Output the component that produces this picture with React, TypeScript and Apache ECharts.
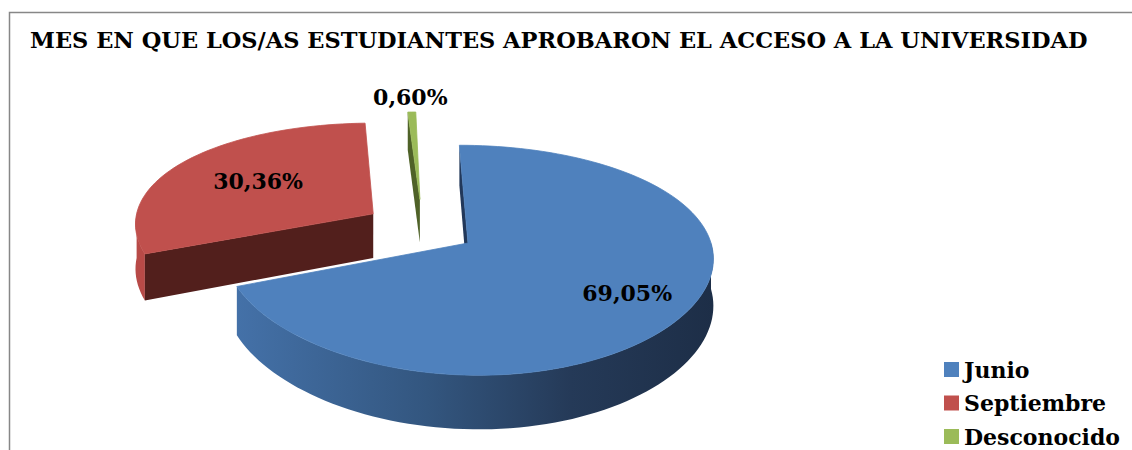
import React, { useEffect, useRef } from "react";
import * as echarts from "echarts";

// ---- data ----
const TITLE = "MES EN QUE LOS/AS ESTUDIANTES APROBARON EL ACCESO A LA UNIVERSIDAD";
const categories = ["Junio", "Septiembre", "Desconocido"];
const values = [69.05, 30.36, 0.6];
const valueLabels = ["69,05%", "30,36%", "0,60%"];

// ---- styles ----
const FONT = "'DejaVu Serif', serif";
const topColors = ["#4f81bd", "#c0504d", "#9bbb59"];
const cutColors = ["#22385a", "#521f1c", "#4f6228"];
const wallColors = ["#3a6190", "#b84a47", "#6f8a3c"];
// exploded slice offsets in unit-disk coordinates [x, depth]
const explodeOffsets = [
  [0, 0],
  [-0.39, 0.27],
  [-0.19, 0.412],
];
const labelRadius = [0.74, 0.6, 1.2];
const layerOrder = [10, 1, 2];

const CX = 468;
const CY = 243;
const VX = 373;
const RX = 243;
const RY = 112.4;
const PERSP_Y = 0.15;
const PERSP_X = 0.1;
const THICK = 46;

function project(X: number, W: number, z: number): number[] {
  const sy = 1 / (1 + PERSP_Y * W);
  const sx = 1 / (1 + PERSP_X * W);
  return [VX + (CX - VX + RX * X) * sx, CY - RY * W * sy + z * THICK * sy];
}

function arcPoints(ox: number, ow: number, a0: number, a1: number, z: number): number[][] {
  const pts: number[][] = [];
  const n = Math.max(2, Math.ceil(((a1 - a0) / (2 * Math.PI)) * 180));
  for (let k = 0; k <= n; k++) {
    const a = a0 + ((a1 - a0) * k) / n;
    pts.push(project(ox + Math.sin(a), ow + Math.cos(a), z));
  }
  return pts;
}

function signedArea(pts: number[][]): number {
  let s = 0;
  for (let k = 0; k < pts.length; k++) {
    const p = pts[k];
    const q = pts[(k + 1) % pts.length];
    s += p[0] * q[1] - q[0] * p[1];
  }
  return s / 2;
}

export default function App() {
  const ref = useRef<HTMLDivElement>(null);

  useEffect(() => {
    document.body.style.margin = "0";
    const chart = echarts.init(ref.current as HTMLDivElement, null, { renderer: "svg" });
    const total = values.reduce((a, b) => a + b, 0);
    const starts: number[] = [];
    let acc = 0;
    values.forEach((v) => {
      starts.push(acc);
      acc += v;
    });

    const renderItem = (params: any, api: any) => {
      const i = params.dataIndex;
      const v = api.value(0);
      const a0 = (2 * Math.PI * starts[i]) / total;
      const a1 = a0 + (2 * Math.PI * v) / total;
      const [ox, ow] = explodeOffsets[i];
      const base = layerOrder[i] * 10;
      const children: any[] = [];

      // outer wall (front half only)
      const w0 = Math.max(a0, Math.PI / 2);
      const w1 = Math.min(a1, (3 * Math.PI) / 2);
      if (w1 > w0) {
        const topArc = arcPoints(ox, ow, w0, w1, 0);
        const botArc = arcPoints(ox, ow, w0, w1, 1).reverse();
        const fill =
          i === 0
            ? new echarts.graphic.LinearGradient(1, 0, 0, 0, [
                { offset: 0, color: "#1d2e47" },
                { offset: 0.3, color: "#253a58" },
                { offset: 0.6, color: "#33567f" },
                { offset: 1, color: "#4471a8" },
              ])
            : wallColors[i];
        children.push({
          type: "polygon",
          z2: base + 1,
          shape: { points: topArc.concat(botArc) },
          style: { fill },
        });
      }

      // radial cut faces (drawn when they face the viewer)
      const cTop = project(ox, ow, 0);
      const cBot = project(ox, ow, 1);
      const faceAt = (a: number) => {
        const eTop = project(ox + Math.sin(a), ow + Math.cos(a), 0);
        const eBot = project(ox + Math.sin(a), ow + Math.cos(a), 1);
        return [cTop, eTop, eBot, cBot];
      };
      const f0 = faceAt(a0);
      if (signedArea(f0) < -1) {
        children.push({
          type: "polygon",
          z2: base + 2,
          shape: { points: f0 },
          style: { fill: cutColors[i] },
        });
      }
      const f1 = faceAt(a1);
      if (signedArea(f1) > 1) {
        children.push({
          type: "polygon",
          z2: base + 2,
          shape: { points: f1 },
          style: { fill: cutColors[i] },
        });
      }

      // top face
      children.push({
        type: "polygon",
        z2: base + 3,
        shape: { points: [cTop].concat(arcPoints(ox, ow, a0, a1, 0)) },
        style: { fill: topColors[i], stroke: topColors[i], lineWidth: 0.8 },
      });

      // value label
      const mid = (a0 + a1) / 2;
      const r = labelRadius[i];
      const lp = project(ox + r * Math.sin(mid), ow + r * Math.cos(mid), 0);
      children.push({
        type: "text",
        z2: 1000,
        x: lp[0],
        y: lp[1],
        style: {
          text: valueLabels[i],
          fill: "#000",
          font: `bold 22px ${FONT}`,
          align: "center",
          verticalAlign: "middle",
        },
      });

      return { type: "group", children };
    };

    chart.setOption({
      animation: false,
      title: {
        text: TITLE,
        left: 30,
        top: 28,
        padding: 0,
        textStyle: { fontFamily: FONT, fontWeight: "bold", fontSize: 22.5, color: "#000" },
      },
      legend: {
        orient: "vertical",
        left: 944,
        top: 357,
        itemWidth: 15,
        itemHeight: 15,
        itemGap: 8.5,
        icon: "rect",
        selectedMode: false,
        padding: 0,
        textStyle: {
          fontFamily: FONT,
          fontWeight: "bold",
          fontSize: 22,
          lineHeight: 25,
          color: "#000",
        },
        data: categories,
      },
      graphic: [
        {
          type: "rect",
          silent: true,
          shape: { x: 9.5, y: 12.5, width: 1200, height: 600 },
          style: { fill: "none", stroke: "#878787", lineWidth: 1.5 },
        },
      ],
      series: [
        {
          type: "custom",
          coordinateSystem: "none",
          silent: true,
          data: values.map((v) => [v]),
          renderItem,
        },
        {
          type: "pie",
          silent: true,
          radius: 0,
          center: [-200, -200],
          label: { show: false },
          labelLine: { show: false },
          data: categories.map((name, i) => ({
            name,
            value: values[i],
            itemStyle: { color: topColors[i] },
          })),
        },
      ],
    });
    return () => chart.dispose();
  }, []);

  return <div ref={ref} style={{ width: 1132, height: 450 }} />;
}
